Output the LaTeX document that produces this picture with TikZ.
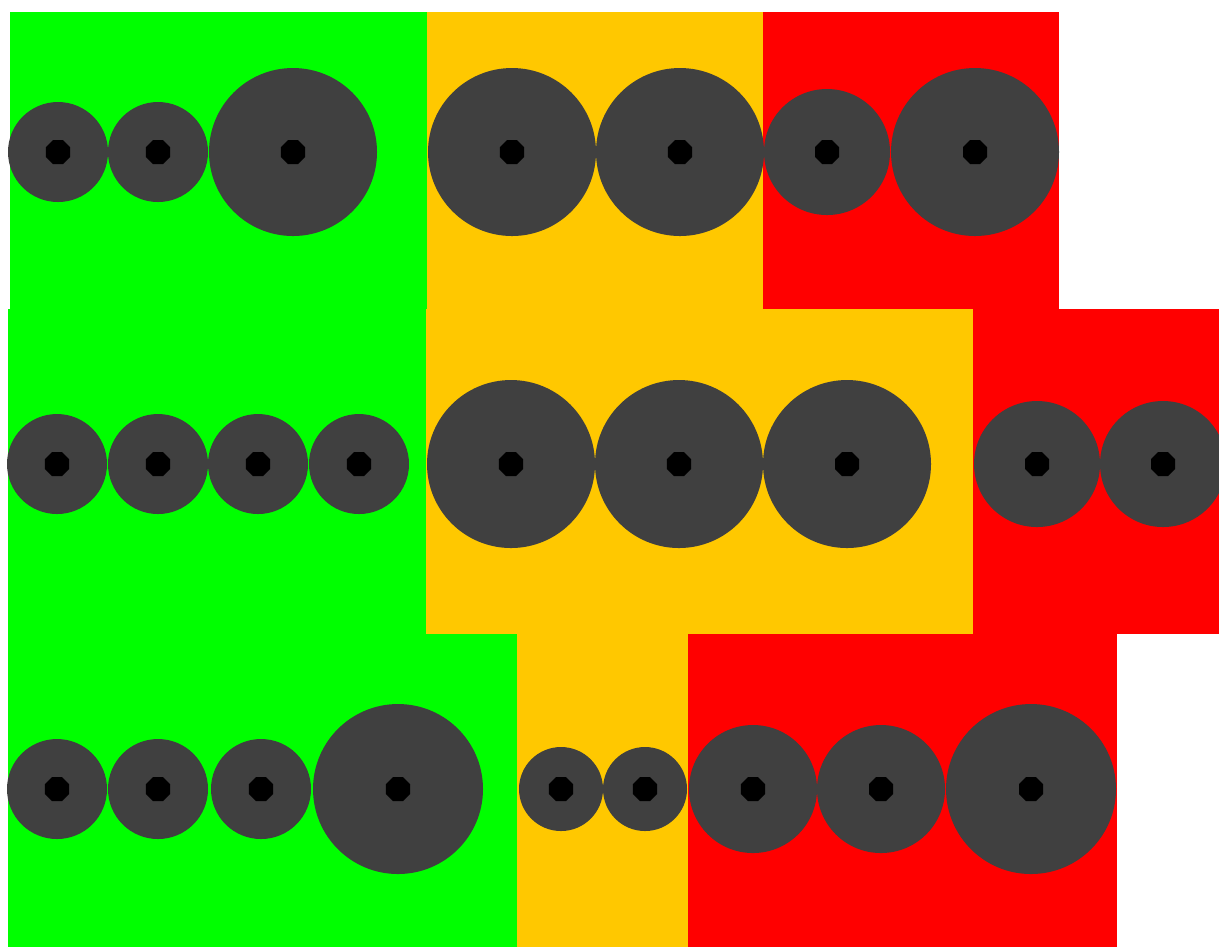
\documentclass[tikz,border=0pt]{standalone}
\usepackage{tikz}
\usetikzlibrary{shapes.geometric}
\definecolor{zgreen}{RGB}{0,255,0}
\definecolor{zorange}{RGB}{255,200,0}
\definecolor{zred}{RGB}{255,0,0}
\definecolor{tyregray}{RGB}{64,64,64}
\tikzset{
  greenzone/.style={fill=zgreen},
  orangezone/.style={fill=zorange},
  redzone/.style={fill=zred},
  tyre/.style={fill=tyregray},
  hub/.style={regular polygon, regular polygon sides=8, fill=black,
              inner sep=0pt, minimum size=0.26cm}
}
\newcommand{\wheel}[3]{%
  \fill[tyre] (#1,#2) circle[radius=#3*0.01cm];
  \node[hub] at (#1,#2) {};}

\begin{document}
\begin{tikzpicture}[x=0.01cm, y=-0.01cm]
  \useasboundingbox (0,0) rectangle (1219,947);
  % zones, row by row
  \fill[greenzone]  (10,12)  rectangle (427,309);
  \fill[orangezone] (427,12) rectangle (763,309);
  \fill[redzone]    (763,12) rectangle (1059,309);
  \fill[greenzone]  (8,309)   rectangle (426,634);
  \fill[orangezone] (426,309) rectangle (973,634);
  \fill[redzone]    (973,309) rectangle (1219,634);
  \fill[greenzone]  (8,634)   rectangle (517,947);
  \fill[orangezone] (517,634) rectangle (688,947);
  \fill[redzone]    (688,634) rectangle (1117,947);
  % wheels, row 1
  \foreach \x/\r in {58/50, 158/50, 293/84, 512/84, 680/84, 827/63, 975/84}
    {\wheel{\x}{152}{\r}}
  % wheels, row 2
  \foreach \x/\r in {57/50, 158/50, 258/50, 359/50, 511/84, 679/84, 847/84,
                     1037/63, 1163/63}
    {\wheel{\x}{464}{\r}}
  % wheels, row 3
  \foreach \x/\r in {57/50, 158/50, 261/50, 398/85, 561/42, 645/42, 753/64,
                     881/64, 1031/85}
    {\wheel{\x}{789}{\r}}
\end{tikzpicture}
\end{document}
